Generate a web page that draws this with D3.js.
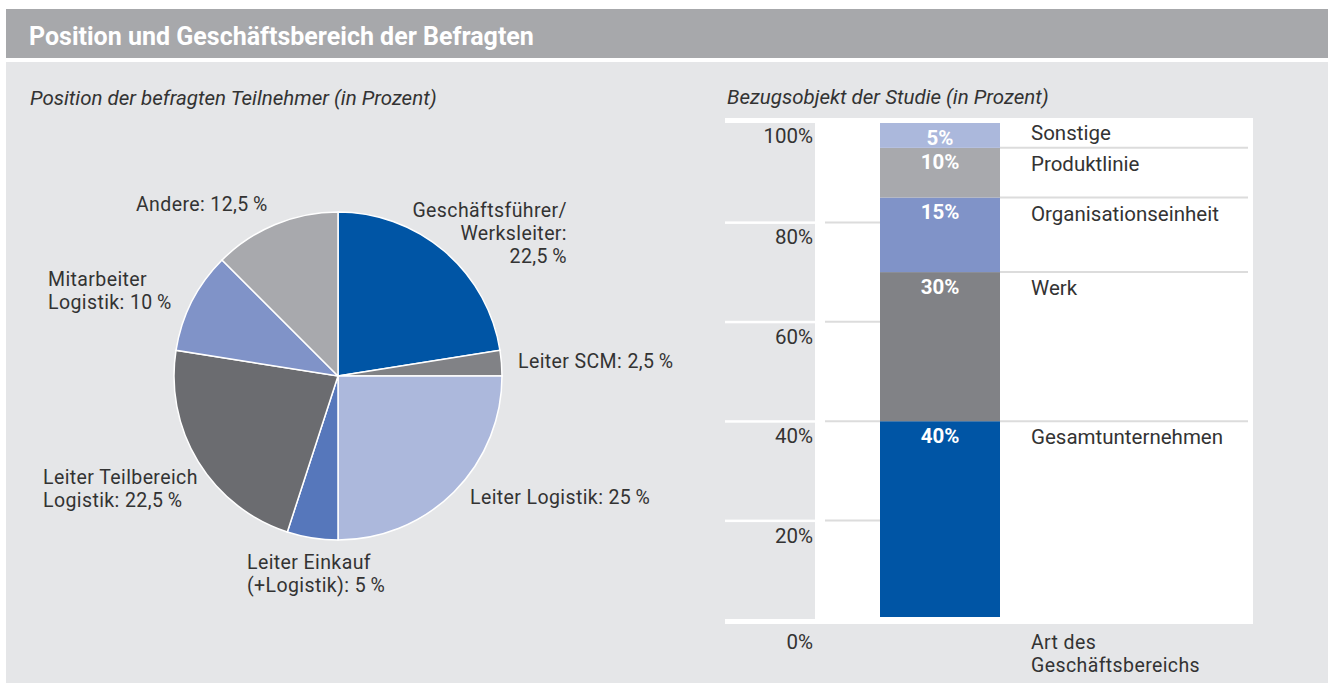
<!DOCTYPE html>
<html>
<head>
	<meta charset="utf-8">
	<script src="https://d3js.org/d3.v7.min.js"></script>
	<title>Position und Geschäftsbereich der Befragten</title>
	<style type="text/css">
		body{
			margin:0;
			background:#ffffff;
		}
		text{
			font-family: Roboto, "Noto Sans", sans-serif;
		}
	</style>
</head>
<body>

	<div id="chart"></div>

	<script type="text/javascript">

		// left chart: position of respondents
		var positionen = ["Geschäftsführer/Werksleiter", "Leiter SCM", "Leiter Logistik", "Leiter Einkauf (+Logistik)",
		                  "Leiter Teilbereich Logistik", "Mitarbeiter Logistik", "Andere"];
		var anteile = [22.5, 2.5, 25, 5, 22.5, 10, 12.5];
		var pieLabelLines = [
			["Geschäftsführer/", "Werksleiter:", "22,5\u2009%"],
			["Leiter SCM: 2,5\u2009%"],
			["Leiter Logistik: 25\u2009%"],
			["Leiter Einkauf", "(+Logistik): 5\u2009%"],
			["Leiter Teilbereich", "Logistik: 22,5\u2009%"],
			["Mitarbeiter", "Logistik: 10\u2009%"],
			["Andere: 12,5\u2009%"]
		];

		// right chart: scope of the study
		var kategorie = ["Art des Geschäftsbereichs"];
		var bereiche = ["Gesamtunternehmen", "Werk", "Organisationseinheit", "Produktlinie", "Sonstige"];
		var bereichWerte = [40, 30, 15, 10, 5];
		var yTicks = [0, 20, 40, 60, 80, 100];

		// styles / layout
		var pieColors = ["#0055a5", "#818286", "#acb8dc", "#5677bb", "#6b6c70", "#8093c8", "#a8a9ad"];
		var barColors = ["#0055a5", "#818286", "#8093c8", "#a8a9ad", "#abb8dc"];
		var pieLabelLayout = [
			{x: 567, y: 216.5, anchor: "end"},
			{x: 518, y: 368, anchor: "start"},
			{x: 470, y: 504, anchor: "start"},
			{x: 247, y: 568.5, anchor: "start"},
			{x: 43,  y: 483.5, anchor: "start"},
			{x: 48,  y: 285.5, anchor: "start"},
			{x: 136, y: 211, anchor: "start"}
		];
		var lineGap = 23;
		var textColor = "#333333";

		var width = 1328, height = 684;

		var svg = d3.select("#chart")
		  .append("svg")
		  .attr("width", width)
		  .attr("height", height);

		// background panels
		svg.append("rect").attr("x", 6).attr("y", 9).attr("width", width - 6).attr("height", 49).attr("fill", "#a7a8ab");
		svg.append("rect").attr("x", 6).attr("y", 62).attr("width", width - 6).attr("height", 621).attr("fill", "#e5e6e8");

		svg.append("text")
		  .attr("x", 29).attr("y", 45)
		  .attr("fill", "#ffffff")
		  .style("font-size", "25px")
		  .style("font-weight", "bold")
		  .text("Position und Geschäftsbereich der Befragten");

		svg.append("text")
		  .attr("x", 30).attr("y", 105)
		  .attr("fill", textColor)
		  .style("font-size", "20.5px")
		  .style("font-style", "italic")
		  .text("Position der befragten Teilnehmer (in Prozent)");

		svg.append("text")
		  .attr("x", 727).attr("y", 104)
		  .attr("fill", textColor)
		  .style("font-size", "20.5px")
		  .style("font-style", "italic")
		  .text("Bezugsobjekt der Studie (in Prozent)");

		// ---- pie ----
		var pie = d3.pie().sort(null).value(function(d){ return d; });
		var arc = d3.arc().innerRadius(0).outerRadius(164);

		var pieG = svg.append("g").attr("transform", "translate(338,376)");

		pieG.selectAll("path")
		  .data(pie(anteile))
		  .enter()
		  .append("path")
		  .attr("d", arc)
		  .attr("fill", function(d, i){ return pieColors[i]; })
		  .attr("stroke", "#ffffff")
		  .attr("stroke-width", 1.5);

		var pieText = svg.append("g").selectAll("text")
		  .data(pieLabelLines)
		  .enter()
		  .append("text")
		  .attr("x", function(d, i){ return pieLabelLayout[i].x; })
		  .attr("y", function(d, i){ return pieLabelLayout[i].y; })
		  .attr("text-anchor", function(d, i){ return pieLabelLayout[i].anchor; })
		  .attr("fill", textColor)
		  .style("font-size", "19.5px")
		  .style("letter-spacing", "0.4px");

		pieText.each(function(lines, i){
			var t = d3.select(this);
			lines.forEach(function(l, j){
				t.append("tspan")
				  .attr("x", pieLabelLayout[i].x)
				  .attr("dy", j === 0 ? 0 : lineGap)
				  .text(l);
			});
		});

		// ---- stacked bar ----
		var yscale = d3.scaleLinear().domain([0, 100]).range([620, 123]);
		var xscale = d3.scaleBand().domain(kategorie).range([880, 1000]);

		var plotLeft = 725, plotRight = 1253, labelCol = 815;

		svg.append("rect")
		  .attr("x", plotLeft).attr("y", yscale(100) - 5)
		  .attr("width", plotRight - plotLeft).attr("height", yscale(0) - yscale(100) + 9)
		  .attr("fill", "#ffffff");

		// grey tick label cells separated by white gridlines
		svg.append("g").selectAll("rect")
		  .data(yTicks.slice(1))
		  .enter()
		  .append("rect")
		  .attr("x", plotLeft)
		  .attr("y", function(d){ return yscale(d) + (d === 100 ? 0 : 1.5); })
		  .attr("width", labelCol - plotLeft)
		  .attr("height", function(d){ return yscale(d - 20) - yscale(d) - (d === 100 ? 1 : 2.5); })
		  .attr("fill", "#e5e6e8");

		// gridlines left of bar
		svg.append("g").selectAll("line")
		  .data(yTicks.filter(function(d){ return d > 0 && d < 100; }))
		  .enter()
		  .append("line")
		  .attr("x1", 825).attr("x2", xscale(kategorie[0]))
		  .attr("y1", function(d){ return yscale(d); })
		  .attr("y2", function(d){ return yscale(d); })
		  .attr("stroke", "#dcdcdc")
		  .attr("stroke-width", 2);

		var row = {};
		bereiche.forEach(function(b, i){ row[b] = bereichWerte[i]; });
		row.kategorie = kategorie[0];
		var series = d3.stack().keys(bereiche)([row]);

		// segment lines right of bar
		svg.append("g").selectAll("line")
		  .data(series.slice(0, -1))
		  .enter()
		  .append("line")
		  .attr("x1", xscale(kategorie[0]) + xscale.bandwidth()).attr("x2", 1248)
		  .attr("y1", function(d){ return yscale(d[0][1]); })
		  .attr("y2", function(d){ return yscale(d[0][1]); })
		  .attr("stroke", "#dcdcdc")
		  .attr("stroke-width", 2);

		svg.append("g").selectAll("rect")
		  .data(series)
		  .enter()
		  .append("rect")
		  .attr("x", xscale(kategorie[0]))
		  .attr("width", xscale.bandwidth())
		  .attr("y", function(d){ return yscale(d[0][1]); })
		  .attr("height", function(d){ return yscale(d[0][0]) - yscale(d[0][1]) - (d[0][0] === 0 ? 3 : 0); })
		  .attr("fill", function(d, i){ return barColors[i]; });

		svg.append("g").selectAll("text")
		  .data(series)
		  .enter()
		  .append("text")
		  .attr("x", xscale(kategorie[0]) + xscale.bandwidth() / 2)
		  .attr("y", function(d){ return yscale(d[0][1]) + 21.5; })
		  .attr("text-anchor", "middle")
		  .attr("fill", "#ffffff")
		  .style("font-size", "20.5px")
		  .style("font-weight", "bold")
		  .text(function(d, i){ return bereichWerte[i] + "%"; });

		svg.append("g").selectAll("text")
		  .data(series)
		  .enter()
		  .append("text")
		  .attr("x", 1031)
		  .attr("y", function(d){
		  	var h = yscale(d[0][0]) - yscale(d[0][1]);
		  	return yscale(d[0][1]) + Math.min(23, h - 8);
		  })
		  .attr("fill", textColor)
		  .style("font-size", "20.5px")
		  .text(function(d){ return d.key; });

		// y tick labels
		svg.append("g").selectAll("text")
		  .data(yTicks)
		  .enter()
		  .append("text")
		  .attr("x", 813)
		  .attr("y", function(d){ return yscale(d) + (d === 100 ? 20 : d === 0 ? 29 : 22); })
		  .attr("text-anchor", "end")
		  .attr("fill", textColor)
		  .style("font-size", "20.5px")
		  .text(function(d){ return d + "%"; });

		// category label
		var catText = svg.append("text")
		  .attr("x", 1031).attr("y", 648.5)
		  .attr("fill", textColor)
		  .style("font-size", "19.5px")
		  .style("letter-spacing", "0.4px");
		catText.append("tspan").attr("x", 1031).text("Art des");
		catText.append("tspan").attr("x", 1031).attr("dy", lineGap).text("Geschäftsbereichs");

	</script>

</body>
</html>
